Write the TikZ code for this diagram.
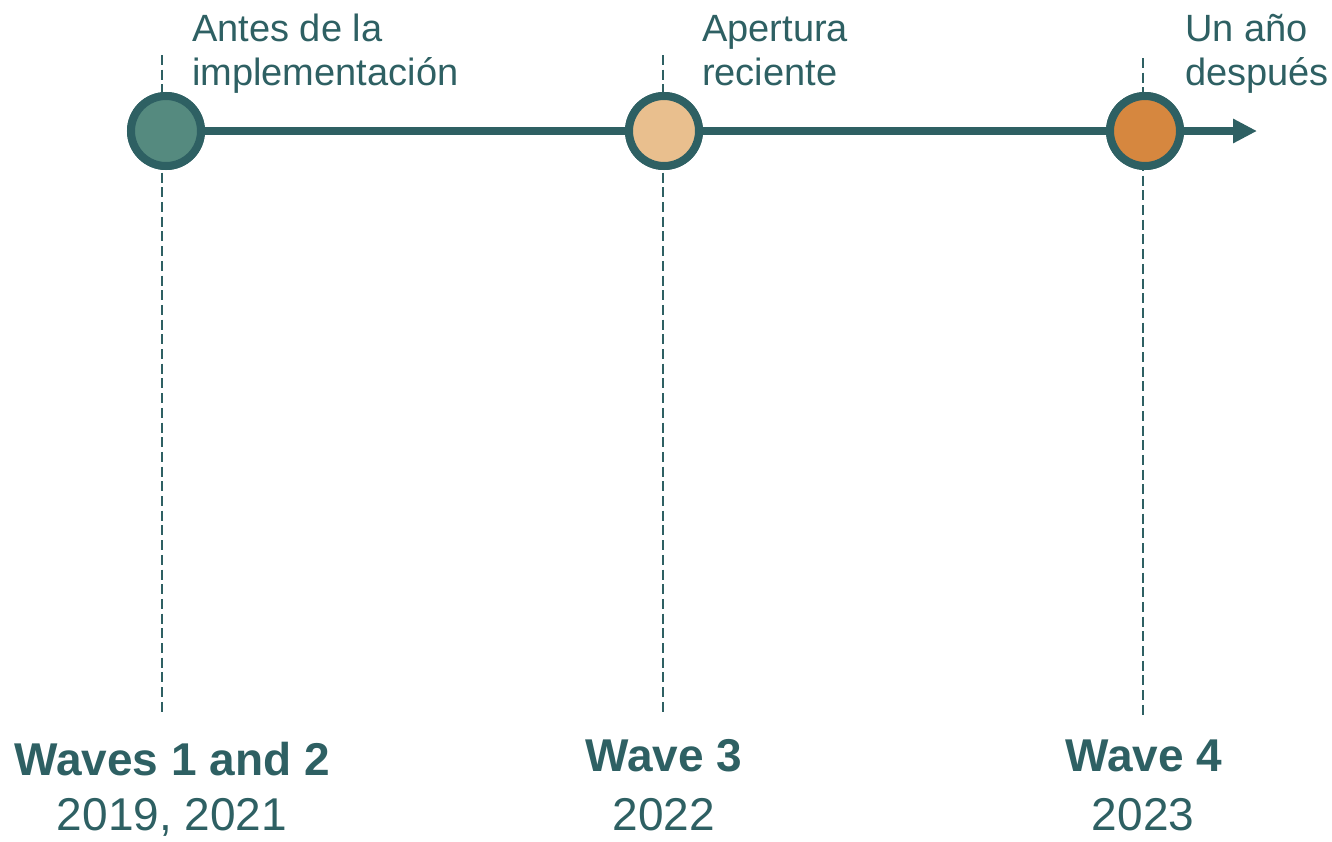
\documentclass[tikz,border=0pt]{standalone}
\usepackage{fontspec}
\setmainfont{Liberation Sans}
\usetikzlibrary{arrows.meta}
\definecolor{teal}{HTML}{2E6063}
\definecolor{fillA}{HTML}{558A7F}
\definecolor{fillB}{HTML}{E9BF8E}
\definecolor{fillC}{HTML}{D6873F}
\tikzset{
  guide/.style={draw=teal, line width=1.3pt, dash pattern=on 10pt off 4.7pt},
  milestone/.style={circle, draw=teal, line width=8pt, minimum size=70pt, inner sep=0pt},
  toplabel/.style={anchor=base west, text=teal, font=\fontsize{38}{44}\selectfont, align=left, inner sep=0pt},
  wavelabel/.style={anchor=base, text=teal, font=\fontsize{46}{52}\selectfont\bfseries, inner sep=0pt},
  yearlabel/.style={anchor=base, text=teal, font=\fontsize{46}{52}\selectfont, inner sep=0pt},
  timeline/.style={draw=teal, line width=8pt, -{Triangle[length=24pt,width=23pt]}}
}
\begin{document}
\begin{tikzpicture}[x=1pt,y=-1pt]
\useasboundingbox (0,0) rectangle (1332,841);
% guides
\coordinate (g1t) at (162,55);  \coordinate (g1b) at (162,712);
\coordinate (g2t) at (663,55);  \coordinate (g2b) at (663,712);
\coordinate (g3t) at (1143,58); \coordinate (g3b) at (1143,715);
\draw[guide] (g1t) -- (g1b);
\draw[guide] (g2t) -- (g2b);
\draw[guide] (g3t) -- (g3b);
% milestones
\node[milestone, fill=fillA] (m1) at (166,131) {};
\node[milestone, fill=fillB] (m2) at (664,131) {};
\node[milestone, fill=fillC] (m3) at (1145,131) {};
\coordinate (end) at (1257,131);
\draw[timeline] (m1.east) -- (end);
\node[milestone, fill=fillA] at (m1) {};
\node[milestone, fill=fillB] at (m2) {};
\node[milestone, fill=fillC] at (m3) {};
% top labels
\node[toplabel] (t1) at (192,85) {Antes de la\\implementación};
\node[toplabel] (t2) at (702,85) {Apertura\\reciente};
\node[toplabel] (t3) at (1185,85) {Un año\\después};
% bottom labels
\node[wavelabel] (w1) at (172,775) {Waves 1 and 2};
\node[yearlabel] (y1) at (172,830) {2019, 2021};
\node[wavelabel] (w2) at (664,771) {Wave 3};
\node[yearlabel] (y2) at (664,830) {2022};
\node[wavelabel] (w3) at (1144,771) {Wave 4};
\node[yearlabel] (y3) at (1143,830) {2023};
\end{tikzpicture}
\end{document}
